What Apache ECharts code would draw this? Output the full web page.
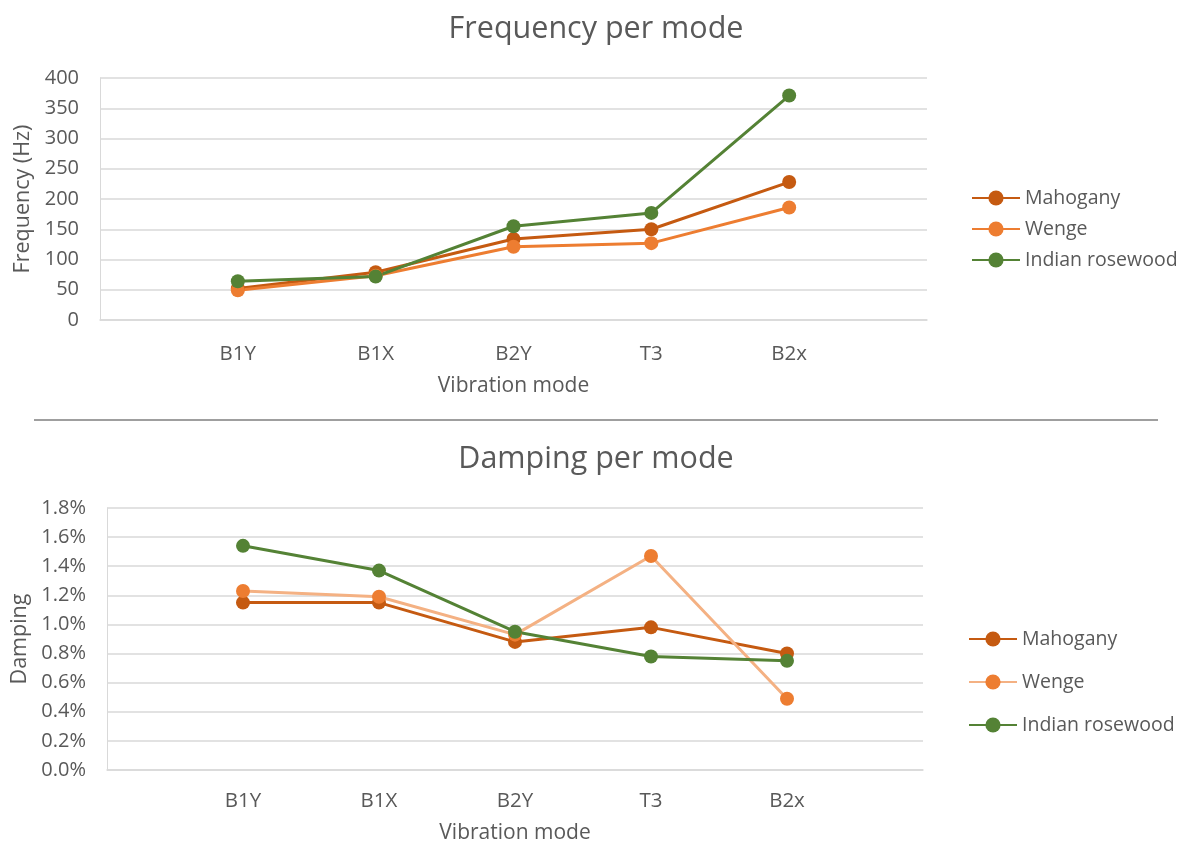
<!DOCTYPE html>
<html>
<head>
<meta charset="utf-8">
<script src="https://cdn.jsdelivr.net/npm/echarts@6/dist/echarts.min.js"></script>
<style>
  html, body { margin: 0; padding: 0; background: #fff; }
  #chart { width: 1192px; height: 850px; }
</style>
</head>
<body>
<div id="chart"></div>
<script>
// ---- Data ----
const modes = ['B1Y', 'B1X', 'B2Y', 'T3', 'B2x'];
const seriesNames = ['Mahogany', 'Wenge', 'Indian rosewood'];
// Frequency (Hz)
const freqMahogany = [52, 79, 134, 150, 228];
const freqWenge = [49, 73, 121, 127, 186];
const freqRosewood = [64, 72, 155, 177, 371];
// Damping (%)
const dampMahogany = [1.15, 1.15, 0.88, 0.98, 0.80];
const dampWenge = [1.23, 1.19, 0.93, 1.47, 0.49];
const dampRosewood = [1.54, 1.37, 0.95, 0.78, 0.75];
// Axis ticks
const freqTicks = { min: 0, max: 400, interval: 50 };
const dampTicks = { min: 0, max: 1.8, interval: 0.2 };

// ---- Build ----
const cats = [''].concat(modes, ['']);
const pad = arr => [null].concat(arr, [null]);

const cMah = '#C55A11', cWen = '#ED7D31', cWenLight = '#F4B183', cRos = '#548235';
const txt = '#595959';
const grid = '#D9D9D9';
const FONT = 'Open Sans';

function mkSeries(name, data, idx, color, lineColor) {
  return {
    name: name, type: 'line', xAxisIndex: idx, yAxisIndex: idx,
    data: pad(data), symbol: 'circle', symbolSize: 14,
    itemStyle: { color: color },
    lineStyle: { color: lineColor || color, width: 3 },
    connectNulls: false, z: 3
  };
}

const xAxisBase = (idx) => ({
  type: 'category', gridIndex: idx, data: cats, boundaryGap: false,
  axisTick: { show: false },
  axisLine: { lineStyle: { color: grid, width: 1.5 } },
  axisLabel: { color: txt, fontSize: 20.5, fontFamily: FONT, margin: idx === 0 ? 24 : 21, interval: 0 },
  name: 'Vibration mode', nameLocation: 'middle', nameGap: idx === 0 ? 56 : 53,
  nameTextStyle: { color: txt, fontSize: 21, fontFamily: FONT }
});

const option = {
  animation: false,
  backgroundColor: '#fff',
  title: [
    { text: 'Frequency per mode', left: 'center', top: 9,
      textStyle: { color: txt, fontSize: 30.5, fontWeight: 'normal', fontFamily: FONT } },
    { text: 'Damping per mode', left: 'center', top: 439,
      textStyle: { color: txt, fontSize: 30.5, fontWeight: 'normal', fontFamily: FONT } }
  ],
  grid: [
    { left: 100, right: 265, top: 78, height: 242 },
    { left: 107, right: 269, top: 508, height: 262 }
  ],
  xAxis: [xAxisBase(0), xAxisBase(1)],
  yAxis: [
    { type: 'value', gridIndex: 0, min: freqTicks.min, max: freqTicks.max, interval: freqTicks.interval,
      axisLine: { show: true, lineStyle: { color: grid } }, axisTick: { show: false },
      splitLine: { lineStyle: { color: grid, width: 1.5 } },
      axisLabel: { color: txt, fontSize: 20, fontFamily: FONT, margin: 21 },
      name: 'Frequency (Hz)', nameLocation: 'middle', nameGap: 62, nameRotate: 90,
      nameTextStyle: { color: txt, fontSize: 21.5, fontFamily: FONT } },
    { type: 'value', gridIndex: 1, min: dampTicks.min, max: dampTicks.max, interval: dampTicks.interval,
      axisLine: { show: true, lineStyle: { color: grid } }, axisTick: { show: false },
      splitLine: { lineStyle: { color: grid, width: 1.5 } },
      axisLabel: { color: txt, fontSize: 20, fontFamily: FONT, margin: 21,
        formatter: v => v.toFixed(1) + '%' },
      name: 'Damping', nameLocation: 'middle', nameGap: 75, nameRotate: 90,
      nameTextStyle: { color: txt, fontSize: 21.5, fontFamily: FONT } }
  ],
  legend: [
    { orient: 'vertical', left: 966, top: 183, itemGap: 11, itemWidth: 48, itemHeight: 19,
      textStyle: { color: txt, fontSize: 19.5, fontFamily: FONT },
      data: seriesNames.map(n => ({ name: n })) },
    { orient: 'vertical', left: 963, top: 624, itemGap: 23, itemWidth: 48, itemHeight: 19,
      textStyle: { color: txt, fontSize: 19.5, fontFamily: FONT },
      data: [
        { name: 'Mahogany' },
        { name: 'Wenge', lineStyle: { color: cWenLight } },
        { name: 'Indian rosewood' }
      ] }
  ],
  graphic: [
    { type: 'line', shape: { x1: 34, y1: 420, x2: 1158, y2: 420 },
      style: { stroke: '#404040', lineWidth: 1.2 } }
  ],
  series: [
    mkSeries(seriesNames[0], freqMahogany, 0, cMah),
    mkSeries(seriesNames[1], freqWenge, 0, cWen),
    mkSeries(seriesNames[2], freqRosewood, 0, cRos),
    mkSeries(seriesNames[0], dampMahogany, 1, cMah),
    mkSeries(seriesNames[1], dampWenge, 1, cWen, cWenLight),
    mkSeries(seriesNames[2], dampRosewood, 1, cRos)
  ]
};

const chart = echarts.init(document.getElementById('chart'), null, { renderer: 'canvas' });
chart.setOption(option);
</script>
</body>
</html>
